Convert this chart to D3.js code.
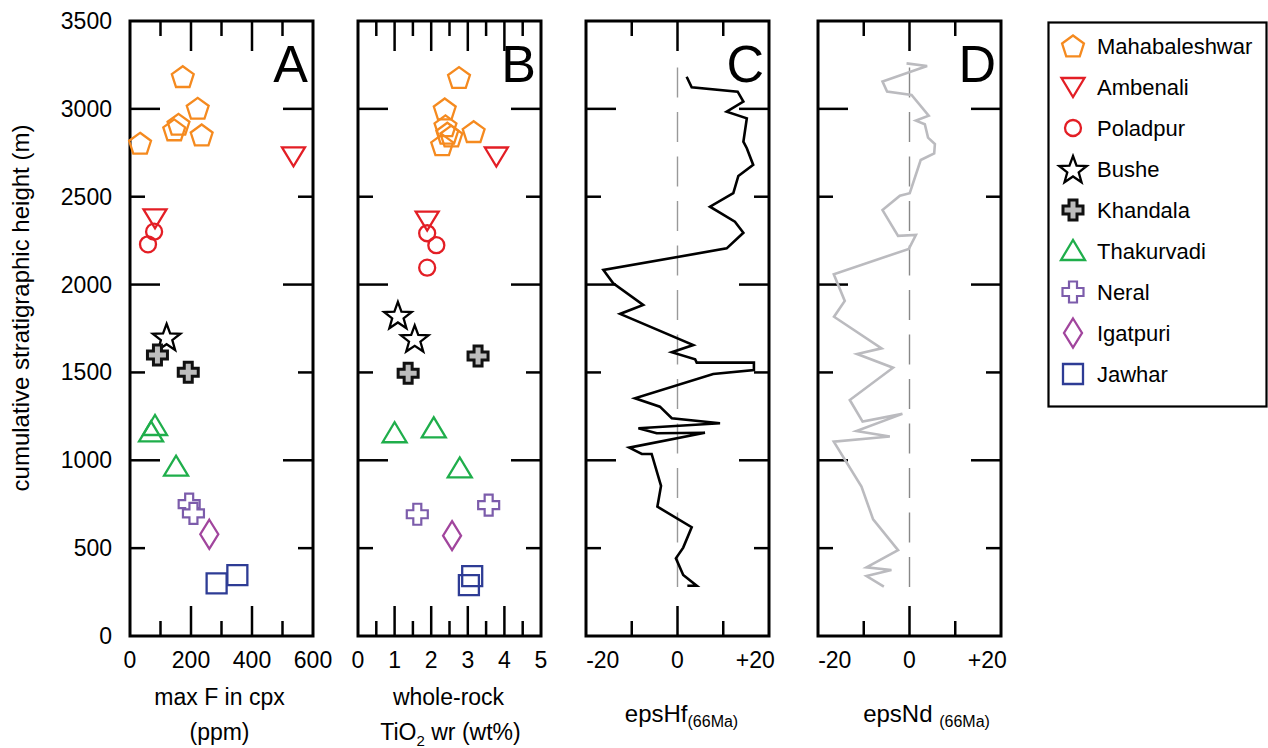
<!DOCTYPE html>
<html><head><meta charset="utf-8">
<script src="https://cdn.jsdelivr.net/npm/d3@7"></script>
<style>body{margin:0;background:#fff}svg{display:block}text{font-family:"Liberation Sans",Arial,sans-serif;fill:#000}</style>
</head><body>
<svg id="chart" width="1268" height="748"></svg>
<script>
// ---------- DATA ----------
const groupNames = ["Mahabaleshwar","Ambenali","Poladpur","Bushe","Khandala","Thakurvadi","Neral","Igatpuri","Jawhar"];
const heightTicks = [0,500,1000,1500,2000,2500,3000,3500];
const fTicks = [0,200,400,600];
const tiTicks = [0,1,2,3,4,5];
const epsTicks = [-20,0,20];
const epsTickLabels = ["-20","0","+20"];

// Panel A: max F in cpx (ppm)
const aGroup = ["Mahabaleshwar","Mahabaleshwar","Mahabaleshwar","Mahabaleshwar","Mahabaleshwar","Mahabaleshwar","Ambenali","Ambenali","Poladpur","Poladpur","Bushe","Khandala","Khandala","Thakurvadi","Thakurvadi","Thakurvadi","Neral","Neral","Igatpuri","Jawhar","Jawhar"];
const aF     = [173,222,159,145,235,33,536,82,79,59,120,90,191,82,69,151,194,208,260,284,352];
const aH     = [3183,3003,2912,2880,2851,2804,2730,2377,2301,2229,1703,1599,1501,1195,1159,964,750,698,579,300,347];

// Panel B: whole-rock TiO2 (wt%)
const bGroup = ["Mahabaleshwar","Mahabaleshwar","Mahabaleshwar","Mahabaleshwar","Mahabaleshwar","Mahabaleshwar","Mahabaleshwar","Ambenali","Ambenali","Poladpur","Poladpur","Poladpur","Bushe","Bushe","Khandala","Khandala","Thakurvadi","Thakurvadi","Thakurvadi","Neral","Neral","Igatpuri","Jawhar","Jawhar"];
const bTi    = [2.76,2.37,2.39,2.44,2.55,2.30,3.16,3.78,1.89,1.89,2.14,1.89,1.09,1.55,3.28,1.37,1.0,2.07,2.78,1.62,3.57,2.57,3.12,3.03];
const bH     = [3178,2999,2903,2861,2845,2795,2870,2729,2364,2292,2224,2096,1827,1694,1594,1495,1154,1182,954,693,745,571,341,290];

// Panel C: epsHf (66 Ma)
const hfH   = [3183,3123,3098,3041,2984,2946,2813,2776,2681,2618,2520,2443,2358,2295,2206,2083,2007,1884,1833,1656,1615,1575,1556,1556,1514,1491,1353,1305,1239,1211,1182,1154,1157,1072,1036,1036,854,736,619,503,442,347,286,286];
const hfEps = [4.0,6.2,26.3,28.8,21.5,30.3,28.8,30.3,33.1,26.6,24.4,14.2,25.1,28.8,21.5,-32.4,-28.1,-15.0,-25.1,6.9,-2.5,7.7,8.4,33.4,33.4,15.6,-18.6,-7.7,-2.5,18.6,-17.1,-9.1,12.0,-21.1,-15.6,-11.3,-7.2,-8.8,6.2,2.5,-0.7,2.5,8.4,4.3];

// Panel D: epsNd (66 Ma)
const ndH   = [3259,3244,3155,3098,3079,2961,2933,2912,2836,2800,2747,2709,2520,2506,2424,2277,2282,2203,2059,1907,1817,1637,1605,1527,1343,1220,1264,1167,1135,1106,850,664,489,391,376,341,281];
const ndEps = [-1.3,7.7,-11.8,-9.8,0.9,8.4,2.8,6.7,8.1,11.1,10.8,4.9,0.1,-4.2,-11.8,-5.0,2.8,-0.3,-33.1,-28.3,-33.0,-12.2,-22.9,-7.2,-26.1,-20.5,-3.1,-23.2,-8.6,-33.1,-21.0,-15.9,-5.0,-18.8,-7.9,-18.8,-11.2];

// ---------- STYLE ----------
const FONT = 23;
const styles = {
  Mahabaleshwar:{shape:"pentagon",stroke:"#F58A1F",fill:"none"},
  Ambenali:{shape:"triDown",stroke:"#E31E25",fill:"none"},
  Poladpur:{shape:"circle",stroke:"#E31E25",fill:"none"},
  Bushe:{shape:"star",stroke:"#000",fill:"#fff"},
  Khandala:{shape:"plusK",stroke:"#111",fill:"#bdbdbd"},
  Thakurvadi:{shape:"triUp",stroke:"#1FAE4B",fill:"none"},
  Neral:{shape:"plus",stroke:"#7C5CAB",fill:"#fff"},
  Igatpuri:{shape:"diamond",stroke:"#A1459D",fill:"none"},
  Jawhar:{shape:"square",stroke:"#2E3C95",fill:"none"}
};
function poly(pts){return "M"+pts.map(p=>p[0].toFixed(2)+","+p[1].toFixed(2)).join("L")+"Z";}
function shapePath(s){
  switch(s){
    case "pentagon": {const r=11.5,pts=[];for(let k=0;k<5;k++){const a=-Math.PI/2+k*2*Math.PI/5;pts.push([r*Math.cos(a),r*Math.sin(a)+1]);}return poly(pts);}
    case "triDown": return poly([[-11.5,-9],[11.5,-9],[0,10]]);
    case "triUp": return poly([[-12,9],[12,9],[0,-11]]);
    case "circle": {const r=8;return `M${r},0A${r},${r} 0 1,1 ${-r},0A${r},${r} 0 1,1 ${r},0Z`;}
    case "star": {const R=14.5,r=6,pts=[];for(let k=0;k<10;k++){const a=-Math.PI/2+k*Math.PI/5;const rr=k%2?r:R;pts.push([rr*Math.cos(a),rr*Math.sin(a)+1.5]);}return poly(pts);}
    case "plusK": {const h=10,w=4;return poly([[-w,-h],[w,-h],[w,-w],[h,-w],[h,w],[w,w],[w,h],[-w,h],[-w,w],[-h,w],[-h,-w],[-w,-w]]);}
    case "plus": {const h=10.5,w=4;return poly([[-w,-h],[w,-h],[w,-w],[h,-w],[h,w],[w,w],[w,h],[-w,h],[-w,w],[-h,w],[-h,-w],[-w,-w]]);}
    case "diamond": return poly([[0,-14.5],[9,0],[0,14.5],[-9,0]]);
    case "square": return poly([[-10,-10],[10,-10],[10,10],[-10,10]]);
  }
}
function drawMarker(g,name,x,y){
  const st=styles[name];
  const sw = name==="Khandala"?3:(name==="Neral"?2.2:2.3);
  g.append("path").attr("d",shapePath(st.shape)).attr("transform",`translate(${x},${y})`)
   .attr("fill",st.fill).attr("stroke",st.stroke).attr("stroke-width",sw).attr("stroke-linejoin","miter");
}

// ---------- LAYOUT ----------
const svg = d3.select("#chart");
const TOP=21, BOT=636, PW=183;
const y = d3.scaleLinear().domain([0,3500]).range([BOT,TOP]);
const xA = d3.scaleLinear().domain([0,600]).range([130,130+PW]);
const xB = d3.scaleLinear().domain([0,5]).range([358,358+PW]);
const xC = d3.scaleLinear().domain([-40,40]).range([586,586+PW]);
const xD = d3.scaleLinear().domain([-40,40]).range([818,818+PW]);
const LONG=30, SHORT=15;

function frame(x, xMajor, xMinor){
  const g = svg.append("g");
  const [x0,x1]=x.range();
  heightTicks.filter(t=>t>0&&t<3500).forEach(t=>{
    const len = t%1000===0?LONG:SHORT;
    g.append("line").attr("x1",x0).attr("x2",x0+len).attr("y1",y(t)).attr("y2",y(t));
    g.append("line").attr("x1",x1).attr("x2",x1-len).attr("y1",y(t)).attr("y2",y(t));
  });
  xMajor.forEach(t=>{
    g.append("line").attr("x1",x(t)).attr("x2",x(t)).attr("y1",TOP).attr("y2",TOP+LONG);
    g.append("line").attr("x1",x(t)).attr("x2",x(t)).attr("y1",BOT).attr("y2",BOT-LONG);
  });
  xMinor.forEach(t=>{
    g.append("line").attr("x1",x(t)).attr("x2",x(t)).attr("y1",TOP).attr("y2",TOP+SHORT);
    g.append("line").attr("x1",x(t)).attr("x2",x(t)).attr("y1",BOT).attr("y2",BOT-SHORT);
  });
  g.selectAll("line").attr("stroke","#000").attr("stroke-width",2.5);
  g.append("rect").attr("x",x0).attr("y",TOP).attr("width",x1-x0).attr("height",BOT-TOP)
    .attr("fill","none").attr("stroke","#000").attr("stroke-width",3);
  return g;
}

frame(xA,[200,400],[100,300,500]);
frame(xB,[1,2,3,4],[0.5,1.5,2.5,3.5,4.5]);
frame(xC,[0],[-20,20]);
frame(xD,[0],[-20,20]);

// zero dashed lines
[[xC,"#999"],[xD,"#888"]].forEach(([x,c])=>{
  svg.append("line").attr("x1",x(0)).attr("x2",x(0)).attr("y1",y(3235)).attr("y2",y(245))
    .attr("stroke",c).attr("stroke-width",1.4).attr("stroke-dasharray","30,14.5");
});

// y axis labels
const yl = svg.append("g");
heightTicks.forEach(t=>{
  yl.append("text").attr("x",112).attr("y",y(t)+8).attr("text-anchor","end").attr("font-size",FONT).text(t);
});
svg.append("text").attr("transform",`translate(29,308) rotate(-90)`)
  .attr("text-anchor","middle").attr("font-size",24)
  .text("cumulative stratigraphic height (m)");

// x tick labels
function xLabels(x,ticks,labels,shift){
  ticks.forEach((t,i)=>{
    svg.append("text").attr("x",x(t)+(shift?shift(t):0)).attr("y",668).attr("text-anchor","middle")
      .attr("font-size",FONT).text(labels?labels[i]:t);
  });
}
const epsShift = t => t<0 ? -29 : (t>0 ? 32 : 0);
xLabels(xA,fTicks);
xLabels(xB,tiTicks);
xLabels(xC,epsTicks,epsTickLabels,epsShift);
xLabels(xD,epsTicks,epsTickLabels,epsShift);

// axis titles
function title(cx,yy,txt){svg.append("text").attr("x",cx).attr("y",yy).attr("text-anchor","middle").attr("font-size",FONT).text(txt);}
title(xA(300)-2,705,"max F in cpx");
title(xA(300)-2,740,"(ppm)");
title(xB(2.5)-1,705,"whole-rock");
const tt = svg.append("text").attr("x",xB(2.5)+1).attr("y",740).attr("text-anchor","middle").attr("font-size",FONT);
tt.append("tspan").text("TiO");
tt.append("tspan").attr("font-size",15).attr("dy",6).text("2");
tt.append("tspan").attr("dy",-6).text(" wr (wt%)");
const th = svg.append("text").attr("x",xC(0)+4).attr("y",722).attr("text-anchor","middle").attr("font-size",24);
th.append("tspan").text("epsHf");
th.append("tspan").attr("font-size",16).attr("dy",5).text("(66Ma)");
const tn = svg.append("text").attr("x",xD(0)+17).attr("y",722).attr("text-anchor","middle").attr("font-size",24);
tn.append("tspan").text("epsNd ");
tn.append("tspan").attr("font-size",16).attr("dy",5).text("(66Ma)");

// panel letters
[[xA,"A"],[xB,"B"],[xC,"C"],[xD,"D"]].forEach(([x,l])=>{
  svg.append("text").attr("x",x.range()[1]-5).attr("y",82).attr("text-anchor","end").attr("font-size",52).text(l);
});

// markers
const gA = svg.append("g");
aF.forEach((v,i)=>drawMarker(gA,aGroup[i],xA(v),y(aH[i])));
const gB = svg.append("g");
bTi.forEach((v,i)=>drawMarker(gB,bGroup[i],xB(v),y(bH[i])));

// lines
const lineC = d3.line().x(d=>xC(d[1])).y(d=>y(d[0]));
svg.append("path").attr("d",lineC(hfH.map((h,i)=>[h,hfEps[i]])))
  .attr("fill","none").attr("stroke","#000").attr("stroke-width",2.6).attr("stroke-linejoin","miter");
const lineD = d3.line().x(d=>xD(d[1])).y(d=>y(d[0]));
svg.append("path").attr("d",lineD(ndH.map((h,i)=>[h,ndEps[i]])))
  .attr("fill","none").attr("stroke","#BBBBBF").attr("stroke-width",2.6).attr("stroke-linejoin","miter");

// legend
svg.append("rect").attr("x",1048.5).attr("y",22.5).attr("width",218).attr("height",384)
  .attr("fill","none").attr("stroke","#000").attr("stroke-width",2.2);
groupNames.forEach((n,i)=>{
  const cy = 46 + i*41;
  drawMarker(svg,n,1073,cy);
  svg.append("text").attr("x",1097).attr("y",cy+8).attr("font-size",22).text(n);
});
</script>
</body></html>
